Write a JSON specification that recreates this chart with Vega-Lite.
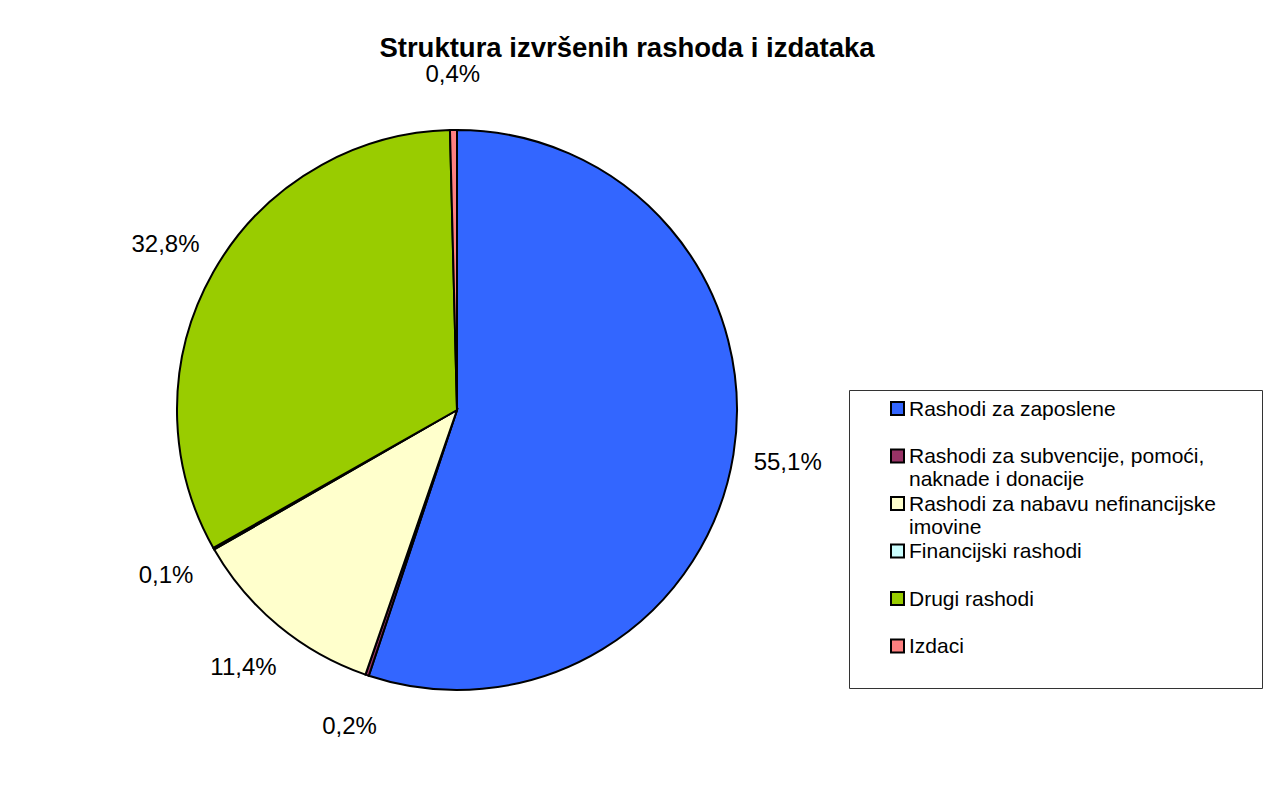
{
  "$schema": "https://vega.github.io/schema/vega-lite/v6.json",
  "width": 560,
  "height": 560,
  "autosize": {"type": "none"},
  "padding": {"left": 177, "top": 130, "right": 545, "bottom": 108},
  "background": "white",
  "title": {
    "text": "Struktura izvršenih rashoda i izdataka",
    "font": "Liberation Sans",
    "fontSize": 27.5,
    "fontWeight": "bold",
    "color": "#000000",
    "anchor": "middle",
    "frame": "group",
    "dx": 170,
    "dy": 28,
    "baseline": "alphabetic",
    "offset": 7
  },
  "config": {
    "view": {"stroke": null},
    "locale": {"number": {"decimal": ",", "thousands": ".", "grouping": [3], "currency": ["", " kn"]}}
  },
  "data": {
    "values": [
      {"kategorija": "Rashodi za zaposlene", "udio": 0.551, "redoslijed": 1},
      {"kategorija": "Rashodi za subvencije, pomoći, naknade i donacije", "udio": 0.002, "redoslijed": 2},
      {"kategorija": "Rashodi za nabavu nefinancijske imovine", "udio": 0.114, "redoslijed": 3},
      {"kategorija": "Financijski rashodi", "udio": 0.001, "redoslijed": 4},
      {"kategorija": "Drugi rashodi", "udio": 0.328, "redoslijed": 5},
      {"kategorija": "Izdaci", "udio": 0.004, "redoslijed": 6}
    ]
  },
  "encoding": {
    "theta": {"field": "udio", "type": "quantitative", "stack": true},
    "order": {"field": "redoslijed", "type": "quantitative"}
  },
  "layer": [
    {
      "mark": {"type": "arc", "outerRadius": 280, "stroke": "#000000", "strokeWidth": 2},
      "encoding": {
        "color": {
          "field": "kategorija",
          "type": "nominal",
          "scale": {
            "domain": ["Rashodi za zaposlene", "Rashodi za subvencije, pomoći, naknade i donacije", "Rashodi za nabavu nefinancijske imovine", "Financijski rashodi", "Drugi rashodi", "Izdaci"],
            "range": ["#3366FF", "#993366", "#FFFFCC", "#CCFFFF", "#99CC00", "#FF8080"]
          },
          "legend": {
            "orient": "none",
            "legendX": 672,
            "legendY": 260,
            "title": " ",
            "titleOrient": "right",
            "titlePadding": 38,
            "titleFontSize": 21,
            "padding": 8,
            "strokeColor": "#333333",
            "fillColor": "#FFFFFF",
            "symbolType": "square",
            "symbolSize": 169,
            "symbolStrokeColor": "#000000",
            "symbolStrokeWidth": 2,
            "symbolOpacity": 1,
            "symbolOffset": 30,
            "labelOffset": 1,
            "labelFont": "Liberation Sans",
            "labelFontSize": 21,
            "labelLineHeight": 22.5,
            "labelColor": "#000000",
            "labelLimit": 0,
            "labelBaseline": "alphabetic",
            "rowPadding": 2.5,
            "labelExpr": "datum.label == 'Rashodi za subvencije, pomoći, naknade i donacije' ? ['Rashodi za subvencije, pomoći,', 'naknade i donacije'] : datum.label == 'Rashodi za nabavu nefinancijske imovine' ? ['Rashodi za nabavu nefinancijske', 'imovine'] : [datum.label, '']",
            "encode": {"labels": {"update": {"dy": {"value": 7}}}}
          }
        }
      }
    },
    {
      "mark": {"type": "text", "radius": 335, "font": "Liberation Sans", "fontSize": 24, "color": "#000000"},
      "encoding": {
        "text": {"field": "udio", "type": "quantitative", "format": ".1%"}
      }
    }
  ]
}
